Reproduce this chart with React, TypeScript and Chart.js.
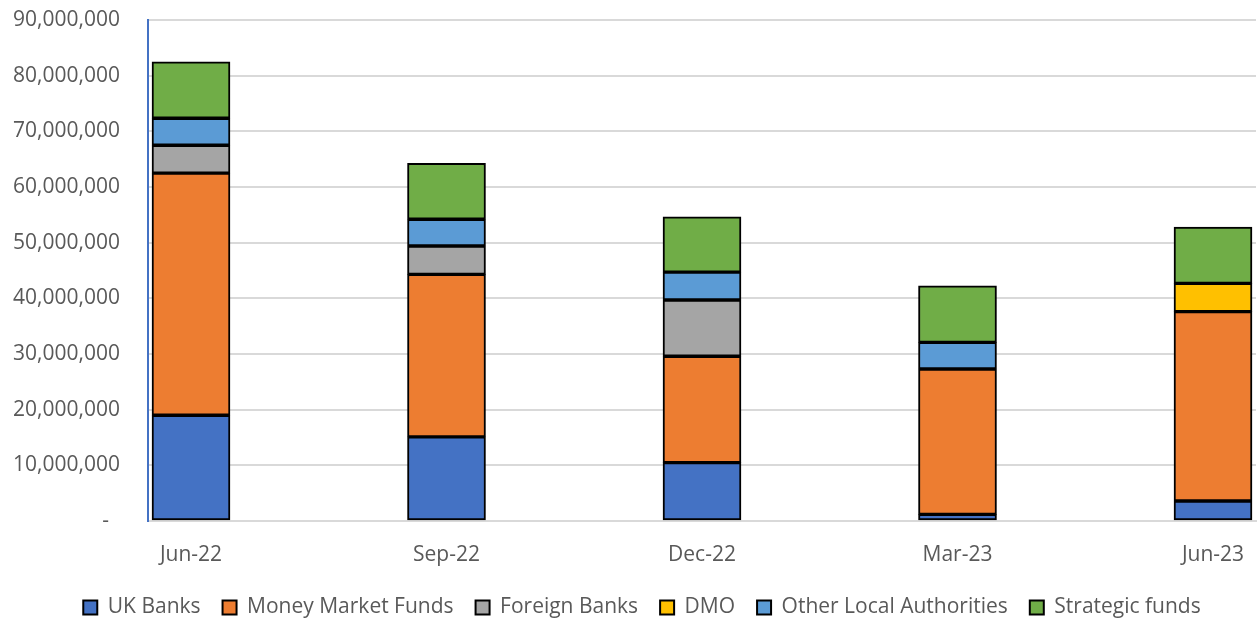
import React, { useEffect, useRef } from "react";
import { Chart, registerables } from "chart.js";

Chart.register(...registerables);

const categories = ["Jun-22", "Sep-22", "Dec-22", "Mar-23", "Jun-23"];
const ukBanks = [19000000, 15100000, 10500000, 1200000, 3600000];
const moneyMarketFunds = [43500000, 29200000, 19100000, 26100000, 34000000];
const foreignBanks = [5000000, 5100000, 10100000, 0, 0];
const dmo = [0, 0, 0, 0, 5100000];
const otherLocalAuthorities = [4850000, 4800000, 5000000, 4800000, 0];
const strategicFunds = [10150000, 10050000, 9950000, 10150000, 10100000];
const yTickValues = [0, 10000000, 20000000, 30000000, 40000000, 50000000, 60000000, 70000000, 80000000, 90000000];

const seriesNames = ["UK Banks", "Money Market Funds", "Foreign Banks", "DMO", "Other Local Authorities", "Strategic funds"];
const seriesColors = ["#4472C4", "#ED7D31", "#A5A5A5", "#FFC000", "#5B9BD5", "#70AD47"];

const FONT = "'Open Sans', sans-serif";
const TEXT = "#595959";
const GRID = "#d9d9d9";

const legendFitPlugin = {
  id: "legendFit",
  beforeLayout(chart: any) {
    const lg = chart.legend;
    if (lg && !lg._patchedFit) {
      const orig = lg.fit.bind(lg);
      lg.fit = function () {
        orig();
        this.height = 46;
      };
      lg._patchedFit = true;
    }
  },
  afterLayout(chart: any) {
    const lg = chart.legend;
    if (lg) {
      lg.left += 14;
      lg.right += 14;
    }
  },
};

export default function App() {
  const ref = useRef<HTMLCanvasElement | null>(null);

  useEffect(() => {
    if (!ref.current) return;
    const series = [ukBanks, moneyMarketFunds, foreignBanks, dmo, otherLocalAuthorities, strategicFunds];
    const chart = new Chart(ref.current, {
      type: "bar",
      data: {
        datasets: series.map((vals, si) => ({
          label: seriesNames[si],
          data: vals.map((v, i) => ({ x: i, y: v })),
          backgroundColor: seriesColors[si],
          borderColor: "#000000",
          borderWidth: 2,
          borderSkipped: false,
          barThickness: 78,
        })),
      },
      options: {
        animation: false,
        responsive: true,
        maintainAspectRatio: false,
        layout: { padding: { top: 20, right: 2, left: 0, bottom: 0 } },
        scales: {
          x: {
            type: "linear",
            stacked: true,
            offset: false,
            min: -0.1683,
            max: 4.1683,
            afterBuildTicks: (scale: any) => {
              scale.ticks = categories.map((_, i) => ({ value: i }));
            },
            afterFit: (scale: any) => {
              scale.height = 54;
              scale.paddingLeft = 0;
              scale.paddingRight = 0;
            },
            ticks: {
              autoSkip: false,
              maxRotation: 0,
              color: TEXT,
              font: { family: FONT, size: 21 },
              padding: 21,
              callback: (v: any) => categories[Math.round(Number(v))] ?? "",
            },
            grid: { display: false, drawTicks: false },
            border: { display: true, color: GRID, width: 2 },
          },
          y: {
            stacked: true,
            min: 0,
            max: 90000000,
            afterBuildTicks: (scale: any) => {
              scale.ticks = yTickValues.map((v) => ({ value: v }));
            },
            afterFit: (scale: any) => {
              scale.width = 148;
              scale.paddingTop = 0;
              scale.paddingBottom = 0;
            },
            ticks: {
              color: TEXT,
              font: { family: FONT, size: 21 },
              padding: 28,
              callback: (v: any) => (Number(v) === 0 ? "-  " : Number(v).toLocaleString("en-US")),
            },
            grid: { color: GRID, lineWidth: 2, drawTicks: false },
            border: { display: true, color: "#4472C4", width: 2 },
          },
        },
        plugins: {
          tooltip: { enabled: false },
          legend: {
            position: "bottom",
            labels: {
              color: TEXT,
              font: { family: FONT, size: 21 },
              boxWidth: 14,
              boxHeight: 14,
              padding: 22,
            },
          },
        },
      },
      plugins: [legendFitPlugin],
    });
    return () => chart.destroy();
  }, []);

  return (
    <div style={{ position: "absolute", left: 0, top: 0, width: 1258, height: 621, background: "#fff" }}>
      <canvas ref={ref} />
    </div>
  );
}
